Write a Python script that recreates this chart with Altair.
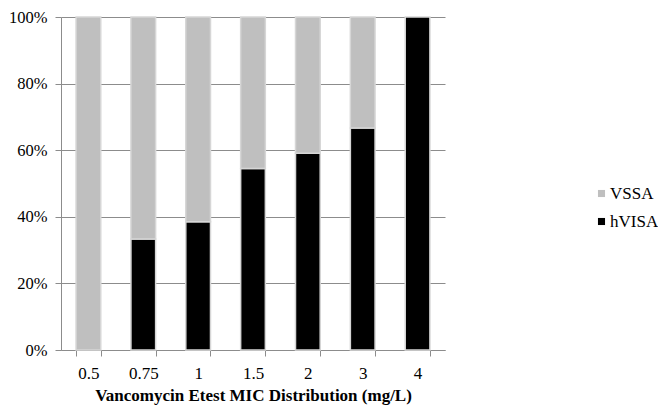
import altair as alt
import pandas as pd

categories = ["0.5", "0.75", "1", "1.5", "2", "3", "4"]
hvisa = [0.0, 0.333, 0.385, 0.545, 0.591, 0.667, 1.0]
vssa = [1.0, 0.667, 0.615, 0.455, 0.409, 0.333, 0.0]
series = ["VSSA", "hVISA"]
colors = ["#BFBFBF", "#000000"]

rows = []
for c, h, v in zip(categories, hvisa, vssa):
    rows.append({"mic": c, "group": "hVISA", "share": h, "ord": 0})
    rows.append({"mic": c, "group": "VSSA", "share": v, "ord": 1})
df = pd.DataFrame(rows)

FONT = "Liberation Serif, Times New Roman, serif"

chart = (
    alt.Chart(df)
    .transform_filter("datum.share > 0")
    .mark_bar(stroke="#d6d6d6", strokeWidth=1.5)
    .encode(
        x=alt.X(
            "mic:N",
            sort=categories,
            scale=alt.Scale(paddingInner=0.55, paddingOuter=0.275),
            axis=alt.Axis(
                title="Vancomycin Etest MIC Distribution (mg/L)",
                labelAngle=0,
                tickBand="extent",
                tickSize=6,
                labelPadding=9,
                titlePadding=6,
                labelFont=FONT,
                labelFontSize=17,
                titleFont=FONT,
                titleFontSize=17,
                titleFontWeight="bold",
            ),
        ),
        y=alt.Y(
            "share:Q",
            stack="zero",
            scale=alt.Scale(domain=[0, 1], nice=False),
            axis=alt.Axis(
                title=None,
                format=".0%",
                values=[0, 0.2, 0.4, 0.6, 0.8, 1.0],
                tickSize=6,
                labelPadding=8,
                grid=True,
                labelFont=FONT,
                labelFontSize=16.5,
            ),
        ),
        color=alt.Color(
            "group:N",
            scale=alt.Scale(domain=series, range=colors),
            legend=alt.Legend(
                title=None,
                orient="none",
                legendX=532,
                legendY=168,
                symbolType="square",
                symbolSize=50,
                symbolStrokeWidth=0,
                labelFont=FONT,
                labelFontSize=17,
                labelColor="#000000",
                rowPadding=10,
                labelOffset=0,
            ),
        ),
        order=alt.Order("ord:Q"),
    )
    .properties(
        width=384,
        height=333,
        autosize="none",
        padding={"left": 53, "top": 9, "right": 213, "bottom": 60},
    )
    .configure_view(stroke=None)
    .configure_axis(
        labelColor="#000000",
        titleColor="#000000",
        domainColor="#8c8c8c",
        tickColor="#8c8c8c",
        gridColor="#8c8c8c",
        domainWidth=1,
        tickWidth=1,
    )
)

chart.save("out.html", embed_options={"renderer": "svg", "actions": False})
